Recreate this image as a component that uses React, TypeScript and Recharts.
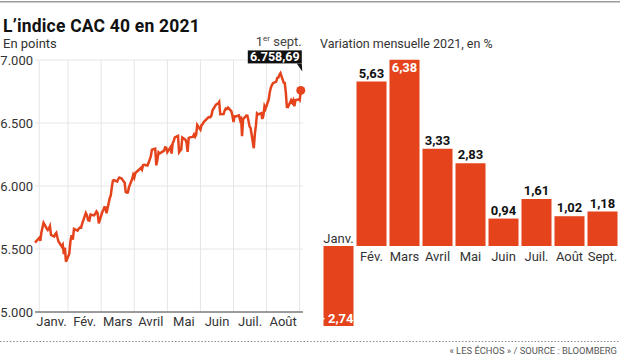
import React from 'react';
import { LineChart, Line, XAxis, YAxis, CartesianGrid, ReferenceDot, BarChart, Bar, LabelList } from 'recharts';

const FONT = "Roboto, 'Noto Sans', sans-serif";
const ORANGE = '#e4431b';
const TEXT = '#333333';

// Left chart: CAC 40 daily closes
const lineMonthLabels = ['Janv.', 'Fév.', 'Mars', 'Avril', 'Mai', 'Juin', 'Juil.', 'Août'];
const monthMidTicks = [0.5, 1.5, 2.5, 3.5, 4.5, 5.5, 6.5, 7.5];
const monthStarts = [1, 2, 3, 4, 5, 6, 7, 8];
const yTicks = [5000, 5500, 6000, 6500, 7000];
const daysInMonth = [31, 28, 31, 30, 31, 30, 31, 31, 30];
const X_MAX = 8.1;

const cacCloses: [string, number][] = [
  ['12-31', 5551], ['01-04', 5589], ['01-05', 5565], ['01-06', 5631], ['01-07', 5670], ['01-08', 5707],
  ['01-11', 5663], ['01-12', 5651], ['01-13', 5662], ['01-14', 5681], ['01-15', 5612], ['01-18', 5599],
  ['01-19', 5617], ['01-20', 5628], ['01-21', 5591], ['01-22', 5560], ['01-25', 5520], ['01-26', 5534],
  ['01-27', 5459], ['01-28', 5511], ['01-29', 5399],
  ['02-01', 5462], ['02-02', 5563], ['02-03', 5609], ['02-04', 5575], ['02-05', 5659], ['02-08', 5646],
  ['02-09', 5661], ['02-10', 5671], ['02-11', 5670], ['02-12', 5704], ['02-15', 5786], ['02-16', 5766],
  ['02-17', 5728], ['02-18', 5725], ['02-19', 5774], ['02-22', 5767], ['02-23', 5780], ['02-24', 5798],
  ['02-25', 5784], ['02-26', 5703],
  ['03-01', 5793], ['03-02', 5810], ['03-03', 5831], ['03-04', 5830], ['03-05', 5783], ['03-08', 5903],
  ['03-09', 5925], ['03-10', 5991], ['03-11', 6043], ['03-12', 6047], ['03-15', 6035], ['03-16', 6055],
  ['03-17', 6067], ['03-18', 6063], ['03-19', 6061], ['03-22', 6026], ['03-23', 5952], ['03-24', 5947],
  ['03-25', 5949], ['03-26', 5989], ['03-29', 6055], ['03-30', 6088], ['03-31', 6067],
  ['04-01', 6103], ['04-06', 6143], ['04-07', 6130], ['04-08', 6166], ['04-09', 6169], ['04-12', 6163],
  ['04-13', 6184], ['04-14', 6209], ['04-15', 6234], ['04-16', 6288], ['04-19', 6296], ['04-20', 6164],
  ['04-21', 6210], ['04-22', 6267], ['04-23', 6258], ['04-26', 6275], ['04-27', 6281], ['04-28', 6306],
  ['04-29', 6303], ['04-30', 6269],
  ['05-03', 6308], ['05-04', 6257], ['05-05', 6339], ['05-06', 6357], ['05-07', 6385], ['05-10', 6397],
  ['05-11', 6268], ['05-12', 6280], ['05-13', 6289], ['05-14', 6385], ['05-17', 6367], ['05-18', 6344],
  ['05-19', 6270], ['05-20', 6381], ['05-21', 6386], ['05-24', 6390], ['05-25', 6409], ['05-26', 6391],
  ['05-27', 6408], ['05-28', 6484], ['05-31', 6447],
  ['06-01', 6484], ['06-02', 6491], ['06-03', 6507], ['06-04', 6516], ['06-07', 6543], ['06-08', 6547],
  ['06-09', 6546], ['06-10', 6559], ['06-11', 6601], ['06-14', 6644], ['06-15', 6652], ['06-16', 6653],
  ['06-17', 6667], ['06-18', 6570], ['06-21', 6571], ['06-22', 6599], ['06-23', 6614], ['06-24', 6611],
  ['06-25', 6622], ['06-28', 6594], ['06-29', 6558], ['06-30', 6508],
  ['07-01', 6553], ['07-02', 6552], ['07-05', 6560], ['07-06', 6528], ['07-07', 6553], ['07-08', 6396],
  ['07-09', 6530], ['07-12', 6559], ['07-13', 6558], ['07-14', 6519], ['07-15', 6473], ['07-16', 6460],
  ['07-19', 6300], ['07-20', 6413], ['07-21', 6481], ['07-22', 6576], ['07-23', 6568], ['07-26', 6578],
  ['07-27', 6532], ['07-28', 6560], ['07-29', 6633], ['07-30', 6613],
  ['08-02', 6687], ['08-03', 6746], ['08-04', 6781], ['08-05', 6801], ['08-06', 6816], ['08-09', 6828],
  ['08-10', 6858], ['08-11', 6860], ['08-12', 6882], ['08-13', 6896], ['08-16', 6820], ['08-17', 6819],
  ['08-18', 6744], ['08-19', 6627], ['08-20', 6626], ['08-23', 6681], ['08-24', 6664], ['08-25', 6681],
  ['08-26', 6632], ['08-27', 6681], ['08-30', 6688], ['08-31', 6680],
  ['09-01', 6758.69],
];

// Right chart: monthly change in %
const barMonths = ['Janv.', 'Fév.', 'Mars', 'Avril', 'Mai', 'Juin', 'Juil.', 'Août', 'Sept.'];
const barChanges = [-2.74, 5.63, 6.38, 3.33, 2.83, 0.94, 1.61, 1.02, 1.18];

const toMonthPos = (d: string) => {
  const [m, day] = d.split('-').map(Number);
  if (m === 12) return 0;
  return m - 1 + day / daysInMonth[m - 1];
};

const lineData = cacCloses.map(([d, v]) => ({ t: toMonthPos(d), close: v }));
const lastPoint = lineData[lineData.length - 1];
const gridX = [lineData[1].t, ...monthStarts];

const barData = barMonths.map((m, i) => ({ month: m, change: barChanges[i] }));
const maxIndex = barChanges.indexOf(Math.max(...barChanges));

const fmtThousands = (v: number) => String(v).replace(/\B(?=(\d{3})+(?!\d))/g, '.');
const fmtLast = (v: number) => {
  const [i, d] = v.toFixed(2).split('.');
  return `${fmtThousands(Number(i))},${d}`;
};
const fmtPct = (v: number) => (v < 0 ? '-\u2009' : '') + Math.abs(v).toFixed(2).replace('.', ',');

const verticalGrid = ({ xAxis, offset }: any) => {
  if (xAxis && typeof xAxis.scale === 'function') return gridX.map((v) => xAxis.scale(v));
  return gridX.map((v) => offset.left + (v / X_MAX) * offset.width);
};

const LastMarker = (props: any) => {
  const { cx, cy } = props;
  const right = cx + 1;
  const boxBottom = cy - 27;
  const boxTop = boxBottom - 13;
  return (
    <g>
      <circle cx={cx} cy={cy} r={4.5} fill={ORANGE} />
      <rect x={right - 54} y={boxTop} width={54} height={13} fill="#111" />
      <polygon points={`${right - 5},${boxBottom} ${right},${boxBottom} ${right + 0.5},${boxBottom + 8}`} fill="#111" />
      <text x={right - 27} y={boxBottom - 2.5} textAnchor="middle" fill="#fff" fontFamily={FONT} fontSize={12.5} fontWeight={700}>
        {fmtLast(lastPoint.close)}
      </text>
      <text x={right} y={boxTop - 4} textAnchor="end" fill="#444" fontFamily={FONT} fontSize={13}>
        1<tspan fontSize={8} dy={-5}>er</tspan>
        <tspan dy={5}> sept.</tspan>
      </text>
    </g>
  );
};

const ValueLabel = (props: any) => {
  const { x, y, width, height, index } = props;
  const v = barChanges[index];
  const top = Math.min(y, y + height);
  const bottom = Math.max(y, y + height);
  if (v < 0) {
    return (
      <text x={x + width} y={bottom - 3.5} textAnchor="end" fill="#fff" fontFamily={FONT} fontSize={13} fontWeight={700}>
        {fmtPct(v)}
      </text>
    );
  }
  const inside = index === maxIndex;
  return (
    <text
      x={x + width / 2}
      y={inside ? top + 12.5 : top - 4}
      textAnchor="middle"
      fill={inside ? '#fff' : '#111'}
      fontFamily={FONT}
      fontSize={13}
      fontWeight={700}
    >
      {fmtPct(v)}
    </text>
  );
};

const MonthLabel = (props: any) => {
  const { x, y, width, height, index } = props;
  const v = barChanges[index];
  const top = Math.min(y, y + height);
  const bottom = Math.max(y, y + height);
  const zero = v < 0 ? top : bottom;
  const ty = v < 0 ? zero - 3 : zero + 14.5;
  return (
    <text x={x + width / 2} y={ty} textAnchor="middle" fill={TEXT} fontFamily={FONT} fontSize={13}>
      {barMonths[index]}
    </text>
  );
};

export default function App() {
  return (
    <div style={{ position: 'absolute', left: 0, top: 0, width: 620, height: 356, background: '#fff', fontFamily: FONT }}>
      <svg width={620} height={356} style={{ position: 'absolute', left: 0, top: 0 }}>
        <rect x={0} y={1} width={620} height={1.5} fill="#9a9a9a" />
        <text x={3} y={31.5} fill="#111" fontSize={17.5} fontWeight={700} fontFamily={FONT} letterSpacing={0.2}>
          L’indice CAC 40 en 2021
        </text>
        <text x={3} y={48} fill={TEXT} fontSize={13} fontFamily={FONT}>En points</text>
        <text x={320} y={48} fill={TEXT} fontSize={12.5} fontFamily={FONT}>Variation mensuelle 2021, en %</text>
        <line x1={0} x2={620} y1={341.5} y2={341.5} stroke="#8a8a8a" strokeWidth={1} strokeDasharray="1.5 1.8" />
        <text x={617} y={354} textAnchor="end" fill="#555" fontSize={9.4} fontFamily={FONT}>
          « LES ÉCHOS » / SOURCE : BLOOMBERG
        </text>
      </svg>

      <div style={{ position: 'absolute', left: 0, top: 0 }}>
        <LineChart width={310} height={356} data={lineData} margin={{ top: 60, right: 7, bottom: 14, left: 0 }}>
          <CartesianGrid stroke="#e6e6e6" strokeWidth={1} verticalCoordinatesGenerator={verticalGrid} />
          <XAxis
            type="number"
            dataKey="t"
            domain={[0, X_MAX]}
            ticks={monthMidTicks}
            tickFormatter={(v: number) => lineMonthLabels[Math.floor(v)]}
            height={30}
            tickLine={false}
            tickSize={0}
            tickMargin={5}
            axisLine={{ stroke: '#444', strokeWidth: 1 }}
            tick={{ fontFamily: FONT, fontSize: 13, fill: TEXT }}
            interval={0}
          />
          <YAxis
            type="number"
            domain={[5000, 7000]}
            ticks={yTicks}
            width={35}
            tickLine={false}
            axisLine={false}
            tickSize={0}
            tickMargin={2}
            tickFormatter={(v: number) => fmtThousands(v)}
            tick={{ fontFamily: FONT, fontSize: 13, fill: TEXT }}
          />
          <Line
            type="linear"
            dataKey="close"
            stroke={ORANGE}
            strokeWidth={2.5}
            dot={false}
            isAnimationActive={false}
          />
          <ReferenceDot x={lastPoint.t} y={lastPoint.close} r={4.5} shape={LastMarker} />
        </LineChart>
      </div>

      <div style={{ position: 'absolute', left: 310, top: 0 }}>
        <BarChart width={310} height={356} data={barData} margin={{ top: 41.6, right: 1.5, bottom: 22.4, left: 11.5 }} barSize={30}>
          <XAxis dataKey="month" hide />
          <YAxis type="number" domain={[-3, 7]} hide />
          <Bar dataKey="change" fill={ORANGE} isAnimationActive={false}>
            <LabelList dataKey="change" content={ValueLabel} />
            <LabelList dataKey="month" content={MonthLabel} />
          </Bar>
        </BarChart>
      </div>
    </div>
  );
}
